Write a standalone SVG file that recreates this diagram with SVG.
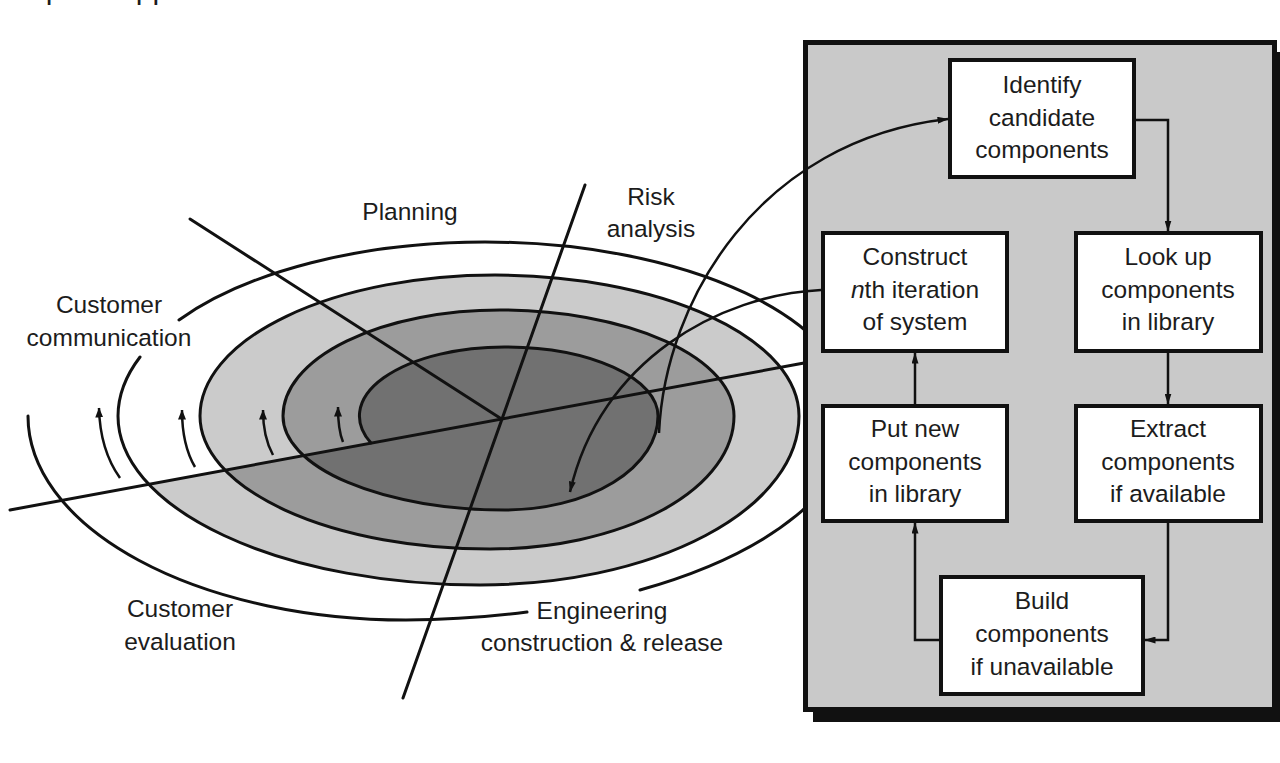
<svg xmlns="http://www.w3.org/2000/svg" width="1280" height="763" viewBox="0 0 1280 763">
  <defs>
    <style>
      .lbl{font-family:"Liberation Sans",Arial,sans-serif;font-size:24.5px;fill:#1c1c1c;text-anchor:middle}
      .ring{fill:none;stroke:#111;stroke-width:3;stroke-linecap:round}
      .axis{fill:none;stroke:#111;stroke-width:3;stroke-linecap:round}
      .box rect{fill:#fff;stroke:#111;stroke-width:4}
      .conn{fill:none;stroke:#111;stroke-width:2.5}
      .turn{fill:none;stroke:#111;stroke-width:2.5}
    </style>
    <marker id="ah" viewBox="0 0 11 7" refX="10.5" refY="3.5" markerWidth="11" markerHeight="7" markerUnits="userSpaceOnUse" orient="auto">
      <path d="M0,0 L11,3.5 L0,7 z" fill="#111"/>
    </marker>
    <marker id="ahs" viewBox="0 0 10 8" refX="9.5" refY="4" markerWidth="10" markerHeight="8" markerUnits="userSpaceOnUse" orient="auto">
      <path d="M0,0 L10,4 L0,8 z" fill="#111"/>
    </marker>
  </defs>

  <rect width="1280" height="763" fill="#fff"/>

  <!-- heading line running off the top edge -->
  <text x="-11" y="-1" style="font-family:'Liberation Sans',Arial,sans-serif;font-size:30px;fill:#1c1c1c">complete approach</text>

  <!-- spiral: shaded bands (painted outer to inner), then the spiral stroke -->
  <g id="spiral">
    <path id="band-light" fill="#cbcbcb" d="M225,470 A290,133 0 0 1 200,416 A295,141 0 0 1 495,275 A304,141 0 0 1 799,416 A319,169 0 0 1 480,585 A362,169 0 0 1 148,484 Z"/>
    <path id="band-medium" fill="#9c9c9c" d="M303,456 A222,94 0 0 1 283,416 A217,106 0 0 1 500,310 A234,106 0 0 1 734,416 A244,133 0 0 1 490,549 A290,133 0 0 1 225,470 Z"/>
    <path id="band-dark" fill="#717171" d="M371,443 A145,69 0 0 1 505,347 A153,69 0 0 1 658,416 A153,94 0 0 1 505,510 A222,94 0 0 1 303,456 Z"/>
    <path class="ring" d="M371,443 A145,69 0 0 1 505,347 A153,69 0 0 1 658,416 A153,94 0 0 1 505,510 A222,94 0 0 1 283,416 A217,106 0 0 1 500,310 A234,106 0 0 1 734,416 A244,133 0 0 1 490,549 A290,133 0 0 1 200,416 A295,141 0 0 1 495,275 A304,141 0 0 1 799,416 A319,169 0 0 1 480,585 A362,169 0 0 1 118,416 A367,174 0 0 1 140,357"/>
    <path class="ring" d="M179,320 A367,174 0 0 1 485,242 A368,174 0 0 1 853,416 A447,204 0 0 1 640,590"/>
    <path class="ring" d="M527,612 A447,204 0 0 1 406,620 A378,204 0 0 1 28,416"/>
    <!-- direction-of-travel arrows -->
    <path class="turn" marker-end="url(#ahs)" d="M120,478 Q100,450 99,408"/>
    <path class="turn" marker-end="url(#ahs)" d="M195,467 Q182,445 182,410"/>
    <path class="turn" marker-end="url(#ahs)" d="M273,455 Q263,437 263,410"/>
    <path class="turn" marker-end="url(#ahs)" d="M343,442 Q338,430 338,407"/>
  </g>

  <g id="axes">
    <line class="axis" x1="10" y1="510" x2="804" y2="363"/>
    <line class="axis" x1="585" y1="185" x2="403" y2="698"/>
    <line class="axis" x1="190" y1="219" x2="500" y2="418"/>
  </g>

  <g id="quadrant-labels" class="lbl">
    <text x="410" y="220">Planning</text>
    <text x="651" y="205">Risk</text>
    <text x="651" y="237">analysis</text>
    <text x="109" y="313">Customer</text>
    <text x="109" y="346">communication</text>
    <text x="180" y="617">Customer</text>
    <text x="180" y="650">evaluation</text>
    <text x="602" y="619">Engineering</text>
    <text x="602" y="651">construction &amp; release</text>
  </g>

  <g id="panel">
    <rect x="813" y="52" width="469" height="670" fill="#111"/>
    <rect x="805.5" y="42.5" width="469" height="667" fill="#c9c9c9" stroke="#111" stroke-width="5"/>
  </g>

  <g id="node-identify" class="box">
    <rect x="950" y="60" width="184" height="117"/>
    <text class="lbl" x="1042" y="93">Identify</text>
    <text class="lbl" x="1042" y="126">candidate</text>
    <text class="lbl" x="1042" y="158">components</text>
  </g>
  <g id="node-construct" class="box">
    <rect x="823" y="233" width="184" height="118"/>
    <text class="lbl" x="915" y="265">Construct</text>
    <text class="lbl" x="915" y="298"><tspan font-style="italic">n</tspan>th iteration</text>
    <text class="lbl" x="915" y="330">of system</text>
  </g>
  <g id="node-lookup" class="box">
    <rect x="1076" y="233" width="185" height="118"/>
    <text class="lbl" x="1168" y="265">Look up</text>
    <text class="lbl" x="1168" y="298">components</text>
    <text class="lbl" x="1168" y="330">in library</text>
  </g>
  <g id="node-putnew" class="box">
    <rect x="823" y="406" width="184" height="115"/>
    <text class="lbl" x="915" y="437">Put new</text>
    <text class="lbl" x="915" y="470">components</text>
    <text class="lbl" x="915" y="502">in library</text>
  </g>
  <g id="node-extract" class="box">
    <rect x="1076" y="406" width="185" height="115"/>
    <text class="lbl" x="1168" y="437">Extract</text>
    <text class="lbl" x="1168" y="470">components</text>
    <text class="lbl" x="1168" y="502">if available</text>
  </g>
  <g id="node-build" class="box">
    <rect x="941" y="577" width="202" height="117"/>
    <text class="lbl" x="1042" y="609">Build</text>
    <text class="lbl" x="1042" y="642">components</text>
    <text class="lbl" x="1042" y="675">if unavailable</text>
  </g>

  <g id="connectors">
    <path class="conn" marker-end="url(#ah)" d="M1134,120 H1168 V231"/>
    <path class="conn" marker-end="url(#ah)" d="M1168,353 V404"/>
    <path class="conn" marker-end="url(#ah)" d="M1168,523 V640 H1145"/>
    <path class="conn" marker-end="url(#ah)" d="M939,640 H915 V523"/>
    <path class="conn" marker-end="url(#ah)" d="M915,404 V353"/>
    <path class="conn" marker-end="url(#ah)" d="M659,433 C665,300 760,140 948,119"/>
    <path class="conn" marker-end="url(#ah)" d="M821,290 C720,295 600,360 570,492"/>
  </g>
</svg>
